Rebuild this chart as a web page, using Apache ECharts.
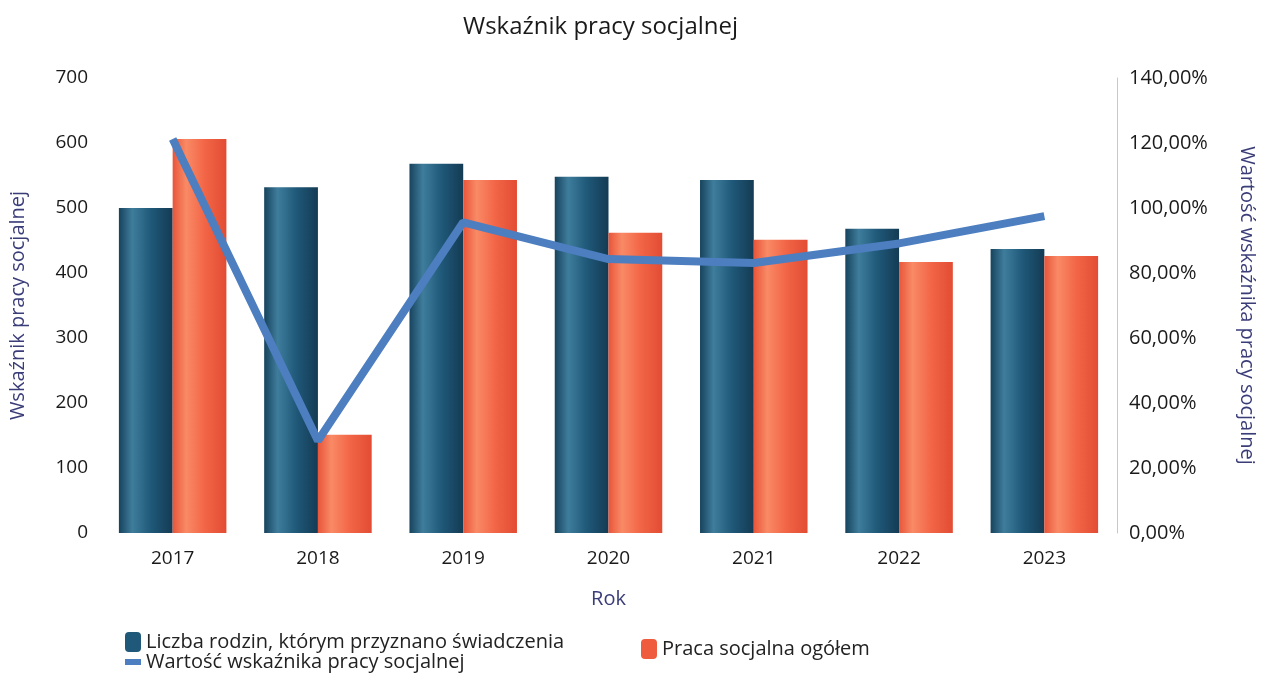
<!DOCTYPE html>
<html>
<head>
<meta charset="utf-8">
<script src="https://cdn.jsdelivr.net/npm/echarts@6/dist/echarts.min.js"></script>
<style>
html, body { margin: 0; padding: 0; background: #fff; }
#container { width: 1265px; height: 679px; }
</style>
</head>
<body>
<div id="container"></div>
<script>
var dom = document.getElementById("container");
var myChart = echarts.init(dom);

// dane
var lata = ['2017', '2018', '2019', '2020', '2021', '2022', '2023'];
var rodziny = [500, 532, 568, 548, 543, 468, 437];
var pracaSocjalna = [606, 151, 543, 462, 451, 417, 426];
var wskaznik = [121.2, 28.4, 95.6, 84.3, 83.1, 89.1, 97.5];

var font = 'Open Sans';
var granat = '#3a3d78';

function walec(c0, c1, c2, c3) {
    return new echarts.graphic.LinearGradient(0, 0, 1, 0, [
        { offset: 0, color: c0 },
        { offset: 0.25, color: c1 },
        { offset: 0.6, color: c2 },
        { offset: 1, color: c3 }
    ]);
}

var option = {
    textStyle: { fontFamily: font },
    title: {
        text: 'Wskaźnik pracy socjalnej',
        left: 458,
        top: 10,
        textStyle: { fontSize: 24, fontWeight: 500, color: '#1a1a1a', fontFamily: font }
    },
    legend: [
        {
            orient: 'vertical',
            left: 120,
            top: 627,
            itemWidth: 16,
            itemHeight: 20,
            itemGap: 0,
            textStyle: { fontSize: 20, color: '#222' },
            data: [
                { name: 'Liczba rodzin, którym przyznano świadczenia', itemStyle: { color: '#1f5878' } },
                { name: 'Wartość wskaźnika pracy socjalnej', icon: 'path://M0,7 L16,7 L16,13 L0,13 Z', itemStyle: { color: '#4d7ec0' } }
            ]
        },
        {
            left: 636,
            top: 634,
            itemWidth: 16,
            itemHeight: 20,
            textStyle: { fontSize: 20, color: '#222' },
            data: [
                { name: 'Praca socjalna ogółem', itemStyle: { color: '#ef5b3d' } }
            ]
        }
    ],
    grid: {
        left: 98,
        right: 143,
        top: 78,
        bottom: 146
    },
    xAxis: {
        type: 'category',
        data: lata,
        name: 'Rok',
        nameLocation: 'middle',
        nameGap: 56,
        nameTextStyle: { fontSize: 20, color: granat },
        axisLine: { show: false },
        axisTick: { show: false },
        axisLabel: { fontSize: 19, color: '#1a1a1a', margin: 16 }
    },
    yAxis: [
        {
            type: 'value',
            min: 0,
            max: 700,
            interval: 100,
            name: 'Wskaźnik pracy socjalnej',
            nameLocation: 'middle',
            nameGap: 72,
            nameTextStyle: { fontSize: 20, color: granat },
            axisLine: { show: false },
            axisTick: { show: false },
            splitLine: { show: false },
            axisLabel: { fontSize: 19, color: '#1a1a1a', margin: 12 }
        },
        {
            type: 'value',
            min: 0,
            max: 140,
            interval: 20,
            name: 'Wartość wskaźnika pracy socjalnej',
            nameLocation: 'middle',
            nameRotate: -90,
            nameGap: 120,
            nameTextStyle: { fontSize: 20, color: granat },
            axisLine: { show: true, lineStyle: { color: '#c8c8c8', width: 1 } },
            axisTick: { show: false },
            splitLine: { show: false },
            axisLabel: {
                fontSize: 20,
                color: '#1a1a1a',
                margin: 12,
                formatter: function (v) { return v.toFixed(2).replace('.', ',') + '%'; }
            }
        }
    ],
    series: [
        {
            name: 'Liczba rodzin, którym przyznano świadczenia',
            type: 'bar',
            barGap: '0%',
            barCategoryGap: '26%',
            itemStyle: { color: walec('#17435d', '#3f7d9c', '#1f5878', '#143b54') },
            data: rodziny
        },
        {
            name: 'Praca socjalna ogółem',
            type: 'bar',
            itemStyle: { color: walec('#e8553a', '#f98a66', '#f26546', '#e24c33') },
            data: pracaSocjalna
        },
        {
            name: 'Wartość wskaźnika pracy socjalnej',
            type: 'line',
            yAxisIndex: 1,
            showSymbol: false,
            symbol: 'none',
            lineStyle: { width: 8, color: '#4d7ec0' },
            itemStyle: { color: '#4d7ec0' },
            z: 5,
            data: wskaznik
        }
    ]
};

if (option && typeof option === "object") {
    myChart.setOption(option, true);
}
</script>
</body>
</html>
